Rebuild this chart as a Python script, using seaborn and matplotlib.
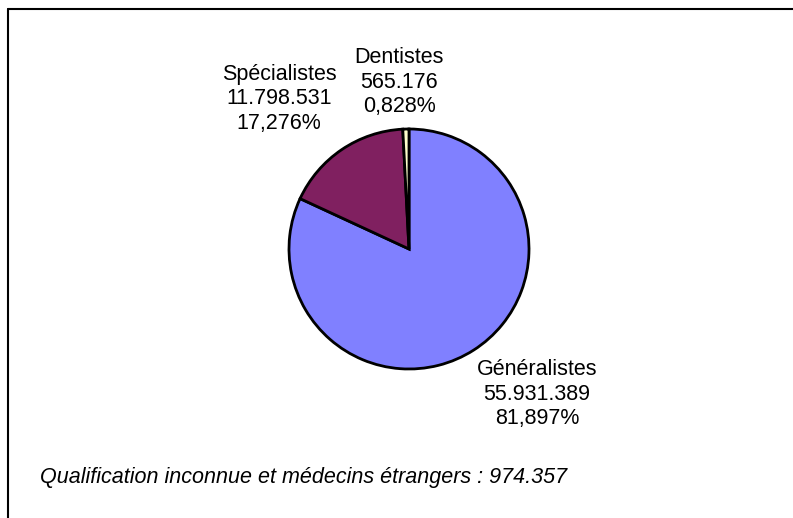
import matplotlib.pyplot as plt
import seaborn as sns

sns.set_theme(style="white")
plt.rcParams["font.family"] = ["Liberation Sans", "DejaVu Sans"]

# data
categories = ["Généralistes", "Spécialistes", "Dentistes"]
values = [55931389, 11798531, 565176]
colors = ["#8080FF", "#802060", "#FFFFCC"]
note = "Qualification inconnue et médecins étrangers : 974.357"


def fmt_int(v):
    return f"{v:,}".replace(",", ".")


def fmt_pct(p):
    return f"{p:.3f}%".replace(".", ",")


W, H = 793, 518
fig = plt.figure(figsize=(W / 100, H / 100), dpi=100)
ax = fig.add_axes([0, 0, 1, 1])

# pie, clockwise from the top
ax.pie(values, colors=colors, startangle=90, counterclock=False,
       center=(409, H - 249), radius=120,
       wedgeprops=dict(edgecolor="black", linewidth=2))
ax.set_xlim(0, W)
ax.set_ylim(0, H)
ax.set_aspect("equal")
ax.axis("off")

total = sum(values)
label_pos = {"Généralistes": (537, H - 394),
             "Spécialistes": (279, H - 99),
             "Dentistes": (399, H - 82)}
for cat, v in zip(categories, values):
    x, y = label_pos[cat]
    txt = f"{cat}\n{fmt_int(v)}\n{fmt_pct(100 * v / total)}"
    ax.text(x, y, txt, ha="center", va="center", fontsize=15.5,
            linespacing=1.22, color="black")

ax.text(40, H - 478, note, ha="left", va="center", fontsize=15.5,
        style="italic", color="black")

# chart frame (top and left edges visible)
ax.plot([7.5, W], [H - 9, H - 9], color="black", linewidth=1.5, clip_on=False)
ax.plot([7.5, 7.5], [0, H - 9], color="black", linewidth=1.5, clip_on=False)

fig.savefig("out.png", dpi=100)
